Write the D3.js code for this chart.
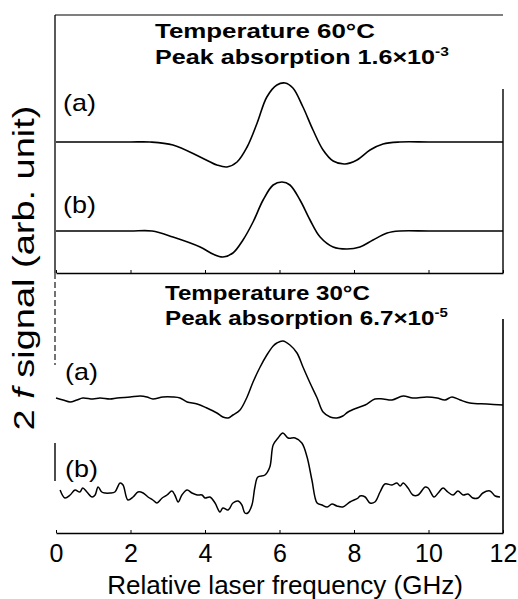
<!DOCTYPE html>
<html>
<head>
<meta charset="utf-8">
<script src="https://cdn.jsdelivr.net/npm/d3@7"></script>
<style>
  html, body { margin: 0; padding: 0; background: #fff; }
  svg { display: block; }
  text { font-family: "Liberation Sans", Arial, Helvetica, sans-serif; fill: #000; }
</style>
</head>
<body>
<svg id="chart" width="518" height="599"></svg>
<script>
// ---------------- DATA (frequency in GHz, signal in arb. units incl. vertical offset) -------------
const xTickValues = [0, 2, 4, 6, 8, 10, 12];
const xTickLabels = ["0", "2", "4", "6", "8", "10", "12"];

// 60 °C, trace (a)
const hotAFreq = [0, 1, 2, 2.52, 3.14, 3.87, 4.32, 4.59, 4.86, 5.13, 5.40, 5.66, 5.93, 6.15, 6.36, 6.63, 6.90, 7.17, 7.44, 7.76, 8.08, 8.43, 8.78, 9.23, 10, 11, 12];
const hotASig  = [195.5, 195.5, 195.5, 195.5, 194, 188, 184, 183, 185.5, 193, 205, 218, 224, 225, 222.5, 213, 201.5, 191.5, 186, 184.5, 186.5, 191.5, 194.5, 195.5, 195.5, 195.5, 195.5];

// 60 °C, trace (b)
const hotBFreq = [0, 1, 2, 2.58, 3.14, 3.87, 4.21, 4.48, 4.75, 5.02, 5.29, 5.56, 5.83, 6.07, 6.28, 6.55, 6.82, 7.09, 7.44, 7.81, 8.16, 8.51, 8.89, 9.23, 10, 11, 12];
const hotBSig  = [151, 151, 151, 151, 148, 143, 139.5, 138, 140, 146.5, 155.5, 166.5, 174, 175.5, 174, 166.5, 156.5, 148, 143, 142, 143, 146.5, 150, 151, 151, 151, 151];

// 30 °C, trace (a)
const coldAFreq = [0, 0.19, 0.38, 0.56, 0.72, 0.99, 1.18, 1.45, 1.64, 1.99, 2.26, 2.44, 2.60, 2.87, 3.14, 3.33, 3.52, 3.79, 4.05, 4.32, 4.48, 4.62, 4.75, 4.94, 5.13, 5.29, 5.48, 5.66, 5.83, 5.93, 6.09, 6.28, 6.47, 6.63, 6.82, 7.01, 7.17, 7.36, 7.54, 7.70, 7.84, 8.08, 8.30, 8.56, 8.78, 9.02, 9.32, 9.58, 9.96, 10.23, 10.44, 10.63, 10.85, 11.11, 11.57, 12.0];
const coldASig  = [67.5, 66.5, 65.5, 66.5, 67.5, 67, 67.5, 67, 67.5, 68, 68.5, 68, 67, 68, 68, 67.5, 65.5, 64.5, 62.5, 60, 58, 57.5, 59, 61.5, 68, 75.5, 83, 89, 93.5, 95, 96, 94, 90, 83, 75, 67.5, 60.5, 58, 57.5, 58.5, 60.5, 62.5, 64, 67, 67, 66.5, 68.5, 67.5, 68, 67.5, 66.5, 68, 66.5, 65, 64.5, 64];

// 30 °C, trace (b)
const coldBFreq = [0.11, 0.24, 0.38, 0.51, 0.64, 0.72, 0.83, 0.97, 1.05, 1.13, 1.23, 1.32, 1.45, 1.58, 1.72, 1.80, 1.93, 2.07, 2.20, 2.34, 2.47, 2.60, 2.71, 2.85, 2.98, 3.11, 3.19, 3.28, 3.38, 3.52, 3.65, 3.79, 3.92, 4.00, 4.13, 4.27, 4.40, 4.48, 4.62, 4.75, 4.89, 4.99, 5.07, 5.15, 5.26, 5.34, 5.42, 5.61, 5.74, 5.83, 5.96, 6.09, 6.23, 6.42, 6.60, 6.74, 6.87, 7.01, 7.14, 7.28, 7.41, 7.54, 7.70, 7.89, 8.11, 8.16, 8.30, 8.43, 8.56, 8.70, 8.83, 9.02, 9.15, 9.24, 9.32, 9.45, 9.58, 9.72, 9.91, 9.99, 10.15, 10.26, 10.39, 10.52, 10.66, 10.79, 10.93, 11.06, 11.19, 11.33, 11.46, 11.65, 11.79, 11.92];
const coldBSig  = [21.5, 17.5, 19, 21.5, 20.5, 22.5, 20.5, 18, 19, 23, 20.5, 20, 20, 20.5, 25, 24, 16.5, 18, 20.5, 20, 18, 16.5, 15, 17.5, 19, 21, 19, 15.5, 19, 21.5, 20, 19, 19, 17.5, 18, 15, 10.5, 12.5, 11.5, 15, 16, 14, 10, 10, 14, 23, 28, 29, 33, 44, 47.5, 50, 47.5, 47.5, 45, 38, 26.5, 15, 14, 13, 14.5, 13.5, 13, 15.5, 17.5, 18.5, 18, 15, 15.5, 20.5, 24.5, 24, 25, 23.5, 25, 22.5, 19, 19, 23, 22.5, 18, 20, 22.5, 20.5, 19, 21, 19, 19.5, 17.5, 17.5, 20, 21, 18.5, 18];

const panelTitles = [
  { main: "Temperature 60°C", sub: "Peak absorption 1.6×10", exp: "-3" },
  { main: "Temperature 30°C", sub: "Peak absorption 6.7×10", exp: "-5" }
];
const traceLabels = ["(a)", "(b)", "(a)", "(b)"];
const xAxisTitle = "Relative laser frequency (GHz)";
const yAxisTitle = ["2 ", "f", " signal (arb. unit)"];

// ---------------- SCALES -------------
const svg = d3.select("#chart");
const x = d3.scaleLinear().domain([0, 12]).range([56, 503]);
const y = d3.scaleLinear().domain([0, 259]).range([533, 15]);
const midValue = 130; // separator between the panels

function fit(sel, w, x0, y0, extra) {
  const len = sel.node().getComputedTextLength();
  const s = w / len;
  sel.attr("transform", `translate(${x0},${y0}) ${extra || ""} scale(${s},1)`);
}

// ---------------- FRAME -------------
const frame = svg.append("g").attr("stroke", "#000").attr("fill", "none");
frame.append("line").attr("x1", x(0) - 1).attr("x2", x(12)).attr("y1", y(259)).attr("y2", y(259)).attr("stroke-width", 1.2);
frame.append("line").attr("x1", x(0) - 1).attr("x2", x(0) - 1).attr("y1", y(259)).attr("y2", y(midValue)).attr("stroke-width", 1.3);
frame.append("line").attr("x1", x(0) - 1).attr("x2", x(0) - 1).attr("y1", y(midValue)).attr("y2", y(84)).attr("stroke-width", 1.1).attr("stroke-dasharray", "6,3");
frame.append("line").attr("x1", x(0) - 1).attr("x2", x(0) - 1).attr("y1", y(45)).attr("y2", y(26)).attr("stroke-width", 1.4);
frame.append("line").attr("x1", x(12)).attr("x2", x(12)).attr("y1", y(222)).attr("y2", y(midValue)).attr("stroke-width", 1.4);
frame.append("line").attr("x1", x(12)).attr("x2", x(12)).attr("y1", y(107)).attr("y2", y(0)).attr("stroke-width", 1.6);

// ---------------- AXES -------------
const midAxis = d3.axisBottom(x).tickValues(xTickValues).tickSizeInner(-3).tickSizeOuter(0).tickFormat("");
const gMid = svg.append("g").attr("transform", `translate(0,${y(midValue)})`).call(midAxis);
gMid.select(".domain").attr("stroke-width", 1.5);

const botAxis = d3.axisBottom(x).tickValues(xTickValues).tickSizeInner(-3).tickSizeOuter(0)
  .tickFormat((d, i) => xTickLabels[i]);
const gBot = svg.append("g").attr("transform", `translate(0,${y(0)})`).call(botAxis);
gBot.attr("font-family", null);
gBot.select(".domain").attr("stroke-width", 1.5);
gBot.selectAll(".tick text")
  .attr("y", 0).attr("dy", 0)
  .attr("transform", "translate(0,29)")
  .style("font-size", "25px")
  .style("font-family", '"Liberation Sans", Arial, sans-serif')
  .attr("fill", "#000");

// ---------------- CURVES -------------
const traces = [
  { f: hotAFreq, s: hotASig, w: 1.6 },
  { f: hotBFreq, s: hotBSig, w: 1.6 },
  { f: coldAFreq, s: coldASig, w: 1.5 },
  { f: coldBFreq, s: coldBSig, w: 1.5 }
];
const lineGen = d3.line().x(d => x(d[0])).y(d => y(d[1])).curve(d3.curveCatmullRom.alpha(0.5));
svg.append("g").selectAll("path").data(traces).join("path")
  .attr("d", t => lineGen(t.f.map((v, i) => [v, t.s[i]])))
  .attr("fill", "none").attr("stroke", "#000").attr("stroke-width", t => t.w).attr("stroke-linejoin", "round");

// ---------------- TEXT -------------
const titlePos = [
  { x: 155, y1: 38, w1: 220, y2: 64, w2: 294 },
  { x: 165, y1: 300, w1: 205, y2: 325, w2: 283 }
];
panelTitles.forEach((t, i) => {
  const p = titlePos[i];
  const t1 = svg.append("text").attr("font-weight", "bold").style("font-size", "21px").text(t.main);
  fit(t1, p.w1, p.x, p.y1);
  const t2 = svg.append("text").attr("font-weight", "bold").style("font-size", "21px");
  t2.append("tspan").text(t.sub);
  t2.append("tspan").attr("dy", -8).style("font-size", "13px").text(t.exp);
  fit(t2, p.w2, p.x, p.y2);
});

const labelPos = [
  { x: 63, y: 111 }, { x: 63, y: 213 }, { x: 65, y: 380 }, { x: 65, y: 477 }
];
traceLabels.forEach((l, i) => {
  const t = svg.append("text").style("font-size", "23px").text(l);
  fit(t, 33, labelPos[i].x, labelPos[i].y);
});

const xt = svg.append("text").style("font-size", "26px").attr("text-anchor", "middle").text(xAxisTitle);
fit(xt, 356, 285, 594);

const yt = svg.append("text").style("font-size", "30px").attr("text-anchor", "middle");
yt.append("tspan").text(yAxisTitle[0]);
yt.append("tspan").attr("font-style", "italic").text(yAxisTitle[1]);
yt.append("tspan").text(yAxisTitle[2]);
fit(yt, 325, 34, 268, "rotate(-90)");
</script>
</body>
</html>
